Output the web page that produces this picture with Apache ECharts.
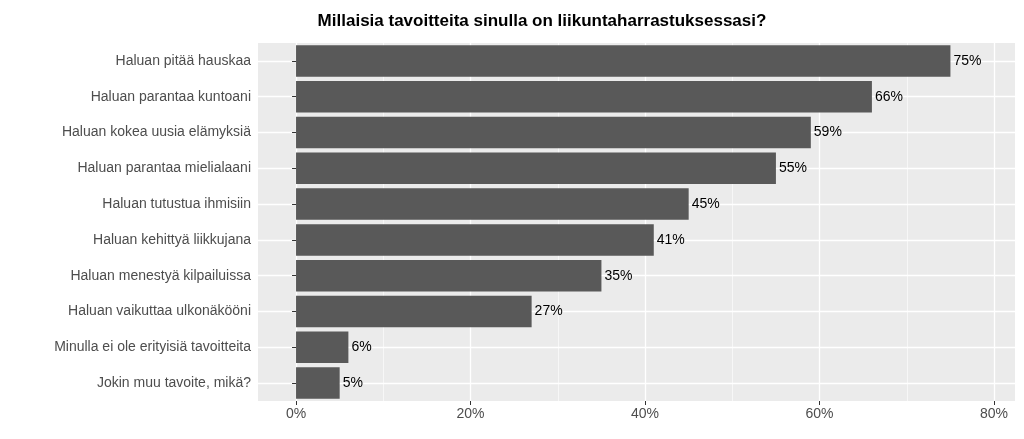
<!DOCTYPE html>
<html><head><meta charset="utf-8">
<script src="https://cdn.jsdelivr.net/npm/echarts@6/dist/echarts.min.js"></script>
<style>html,body{margin:0;padding:0;background:#fff}#c{width:1024px;height:439px}</style>
</head><body><div id="c"></div>
<script>
const categories = ["Haluan pitää hauskaa","Haluan parantaa kuntoani","Haluan kokea uusia elämyksiä","Haluan parantaa mielialaani","Haluan tutustua ihmisiin","Haluan kehittyä liikkujana","Haluan menestyä kilpailuissa","Haluan vaikuttaa ulkonäkööni","Minulla ei ole erityisiä tavoitteita","Jokin muu tavoite, mikä?"];
const values = [75,66,59,55,45,41,35,27,6,5];
const majorTicks = [0,20,40,60,80];
const minorTicks = [10,30,50,70];
const chart = echarts.init(document.getElementById('c'));
const font = 'Liberation Sans, Arial, sans-serif';
const lines = [];
majorTicks.forEach(v=>lines.push({xAxis:v,lineStyle:{color:'#fff',width:1.3,type:'solid'}}));
minorTicks.forEach(v=>lines.push({xAxis:v,lineStyle:{color:'#fff',width:0.6,type:'solid'}}));
categories.forEach(c=>lines.push({yAxis:c,lineStyle:{color:'#fff',width:1.3,type:'solid'}}));
chart.setOption({
  animation:false,
  title:{text:'Millaisia tavoitteita sinulla on liikuntaharrastuksessasi?',left:537,top:8,textAlign:'center',
    textStyle:{fontFamily:font,fontSize:17,fontWeight:'bold',color:'#000'}},
  grid:{left:258,right:9,top:43,bottom:38,show:true,backgroundColor:'#ebebeb',borderWidth:0},
  xAxis:{type:'value',min:-4.36,max:82.4,
    axisLine:{show:false},splitLine:{show:false},
    axisTick:{show:true,customValues:majorTicks,length:4,lineStyle:{color:'#333'}},
    axisLabel:{customValues:majorTicks,formatter:v=>Math.round(v)+'%',color:'#4d4d4d',fontSize:14,fontFamily:font,margin:6}},
  yAxis:{type:'category',data:categories,inverse:true,
    axisLine:{show:false},splitLine:{show:false},
    axisTick:{show:true,alignWithLabel:true,length:4,lineStyle:{color:'#333'}},
    axisLabel:{color:'#4d4d4d',fontSize:14,fontFamily:font,margin:7}},
  series:[{type:'bar',data:values,barWidth:31.5,itemStyle:{color:'#595959'},
    label:{show:true,position:'right',distance:3,formatter:p=>p.value+'%',color:'#000',fontSize:14,fontFamily:font},
    markLine:{silent:true,symbol:'none',label:{show:false},data:lines,z:0}
  }]
});
</script></body></html>
